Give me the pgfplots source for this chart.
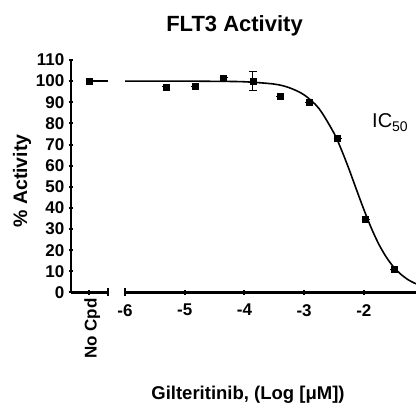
\documentclass[border=0pt]{standalone}
\usepackage{fontspec}
\setmainfont{Liberation Sans}
\usepackage{pgfplots}
\pgfplotsset{compat=1.18}

% curve
\pgfplotstableread{
x y
-6.0 100
-5.0 100
-4.5 99.9
-4.0 99.7
-3.5 98.6
-3.25 96.9
-3.0 93.5
-2.75 87.0
-2.5 75.4
-2.375 67.5
-2.25 58.5
-2.125 48.8
-2.0 39.3
-1.875 30.5
-1.75 22.9
-1.625 16.8
-1.5 12.0
-1.375 8.5
-1.25 5.9
-1.126 4.1
}\fitcurve

\pgfplotstableread{
x y e
-5.31 97.3 0
-4.82 97.7 0
-4.35 101.6 0
-3.86 100.0 4.4
-3.40 92.9 0
-2.91 89.8 0
-2.44 72.9 0
-1.97 34.6 0
-1.49 11.1 0
}\points

\begin{document}
\begin{tikzpicture}
\useasboundingbox (0bp,0bp) rectangle (416bp,416bp);
\pgfplotsset{
  every axis/.append style={
    scale only axis, height=232.5bp, ymin=0, ymax=110,
    axis line style={-, line width=2.4bp, black},
    every outer x axis line/.append style={-},
    every outer y axis line/.append style={-},
    tick style={line width=2bp, black},
    tick align=outside, major tick length=4.5bp, minor tick length=3bp,
    ticklabel style={font=\fontsize{17bp}{17bp}\selectfont\bfseries},
    /pgf/number format/assume math mode=true,
  },
}
% No Cpd segment
\begin{axis}[
  at={(71bp,123.5bp)}, anchor=south west, width=37bp,
  xmin=0, xmax=1,
  axis x line=bottom, axis y line=left,
  every outer x axis line/.append style={-},
  every outer y axis line/.append style={-},
  ytick={0,10,...,110},
  yticklabel style={xshift=-1bp},
  xtick={0.49}, xticklabels={No Cpd},
  xticklabel style={rotate=90, anchor=east, yshift=-3bp},
  extra x ticks={1}, extra x tick labels={},
  extra x tick style={tick align=center, major tick length=8bp},
]
\addplot[line width=1.6bp] coordinates {(0.49,100) (1,100)};
\addplot[only marks, mark=square*, mark size=3bp] coordinates {(0.49,100.2)};
\end{axis}
% log concentration segment
\begin{axis}[
  at={(125bp,123.5bp)}, anchor=south west, width=291bp,
  xmin=-6, xmax=-1.126,
  axis x line=bottom, axis y line=none,
  every outer x axis line/.append style={-},
  xtick={-6,-5,-4,-3,-2}, xticklabels={-6,-5,-4,-3,-2},
  xticklabel style={yshift=-6bp},
  minor xtick={-5.699,-5.523,-5.398,-5.301,-5.222,-5.155,-5.097,-5.046,
    -4.699,-4.523,-4.398,-4.301,-4.222,-4.155,-4.097,-4.046,
    -3.699,-3.523,-3.398,-3.301,-3.222,-3.155,-3.097,-3.046,
    -2.699,-2.523,-2.398,-2.301,-2.222,-2.155,-2.097,-2.046,
    -1.699,-1.523,-1.398,-1.301,-1.222,-1.155},
  extra x ticks={-6}, extra x tick labels={},
  extra x tick style={tick align=center, major tick length=8bp},
]
\addplot[line width=1.6bp, smooth] table {\fitcurve};
\addplot[only marks, mark=square*, mark size=3bp,
  error bars/.cd, y dir=both, y explicit,
  error bar style={line width=0.8bp},
  error mark options={rotate=90, mark size=4bp, line width=0.8bp}]
  table[x=x, y=y, y error=e] {\points};
\end{axis}
\node[anchor=base, font=\fontsize{22bp}{22bp}\selectfont\bfseries] at (234.5bp,384bp) {FLT3 Activity};
\node[anchor=base, font=\fontsize{18.5bp}{18.5bp}\selectfont\bfseries] at (248bp,17bp) {Gilteritinib, (Log [μM])};
\node[anchor=base, rotate=90, font=\fontsize{19.5bp}{19.5bp}\selectfont\bfseries] at (27bp,235bp) {\% Activity};
\node[anchor=base west, inner sep=0pt, font=\fontsize{20bp}{20bp}\selectfont] at (372bp,288bp) {IC\textsubscript{50}};
\end{tikzpicture}
\end{document}
